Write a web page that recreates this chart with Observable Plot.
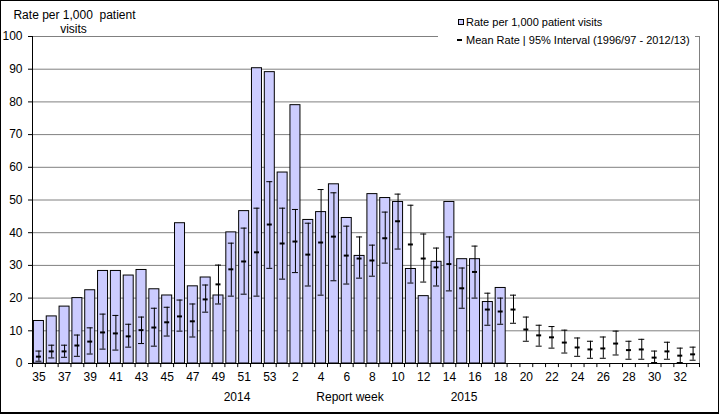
<!DOCTYPE html>
<html>
<head>
<meta charset="utf-8">
<script src="https://cdn.jsdelivr.net/npm/d3@7"></script>
<script src="https://cdn.jsdelivr.net/npm/@observablehq/plot@0.6"></script>
<style>
  body { margin: 0; background: #fff; }
  #wrap { position: relative; width: 719px; height: 414px; overflow: hidden; background: #fff;
          font-family: "Liberation Sans", Arial, sans-serif; color: #000; }
  #chart { position: absolute; left: 0; top: 0; }
  #border { position: absolute; left: 0; top: 0; width: 717px; height: 411px; border: 1px solid #000;
            border-bottom-width: 2px; pointer-events: none; }
  .lbl { position: absolute; white-space: pre; transform: translate(-50%, -50%); font-size: 12px; line-height: 14px; }
  #legend { position: absolute; left: 438px; top: 9px; width: 257px; height: 38px; background: #fff; font-size: 11px; }
  .lgtext { position: absolute; left: 28px; white-space: pre; line-height: 12px; transform: translateY(-50%); }
  .sq { position: absolute; left: 20px; width: 4px; height: 4px; background: #ccccff; border: 1px solid #000; }
  .dash { position: absolute; left: 19px; width: 5px; height: 2px; background: #000; }
</style>
</head>
<body>
<div id="wrap">
  <div id="chart"></div>
  <div class="lbl" style="left:74.5px; top:15px">Rate per 1,000  patient</div>
  <div class="lbl" style="left:73.5px; top:28.5px">visits</div>
  <div id="legend">
    <div class="sq" style="top:10px"></div>
    <div class="lgtext" style="top:12.7px">Rate per 1,000 patient visits</div>
    <div class="dash" style="top:30px"></div>
    <div class="lgtext" style="top:31px">Mean Rate | 95% Interval (1996/97 - 2012/13)</div>
  </div>
  <div class="lbl" style="left:237px; top:397px">2014</div>
  <div class="lbl" style="left:350px; top:397px">Report week</div>
  <div class="lbl" style="left:464px; top:397px">2015</div>
  <div id="border"></div>
</div>
<script>
// Report weeks: 2014 weeks 35-53, then 2015 weeks 1-33
const weeks = ["35","36","37","38","39","40","41","42","43","44","45","46","47","48","49","50","51","52","53",
  "1","2","3","4","5","6","7","8","9","10","11","12","13","14","15","16","17","18","19","20",
  "21","22","23","24","25","26","27","28","29","30","31","32","33"];

// Rate per 1,000 patient visits (available through 2015 week 18)
const rate = [13.0, 14.4, 17.4, 20.0, 22.4, 28.3, 28.3, 26.9, 28.6, 22.7, 20.8, 42.9, 23.6, 26.3, 20.8, 40.1, 46.6, 90.3, 89.1,
  58.4, 79.0, 43.9, 46.3, 54.8, 44.5, 32.9, 51.8, 50.6, 49.4, 28.9, 20.6, 31.1, 49.4, 31.9, 31.9, 18.8, 23.1];

// Mean rate and 95% interval (1996/97 - 2012/13)
const meanRate = [2.1, 3.7, 3.7, 5.5, 6.7, 9.5, 9.2, 8.3, 10.2, 11.0, 12.6, 14.4, 12.9, 19.6, 24.2, 28.8, 31.2, 34.0, 42.5,
  36.7, 37.3, 33.3, 37.0, 38.8, 33.0, 32.1, 31.5, 38.3, 43.5, 36.4, 32.1, 29.4, 30.4, 23.0, 28.0, 16.5, 15.9, 16.5, 10.4,
  8.6, 8.0, 6.4, 4.9, 4.3, 4.6, 6.1, 4.1, 4.3, 1.8, 3.7, 2.4, 2.8];
const upper = [3.8, 5.6, 5.6, 8.7, 10.9, 15.1, 14.7, 12.0, 14.2, 16.9, 17.2, 19.4, 18.2, 24.0, 30.1, 36.8, 41.4, 47.5, 55.6,
  47.5, 47.1, 42.9, 53.2, 52.2, 42.0, 38.7, 36.2, 46.3, 51.8, 48.4, 39.6, 35.3, 38.7, 29.2, 35.9, 21.5, 20.0, 20.9, 14.2,
  11.7, 11.3, 10.2, 7.8, 6.8, 8.1, 9.9, 6.8, 7.4, 3.8, 6.5, 4.7, 5.0];
const lower = [0.7, 1.7, 1.9, 2.2, 2.9, 4.4, 4.1, 5.0, 6.1, 5.3, 8.4, 9.9, 8.1, 15.7, 18.2, 20.6, 21.2, 20.6, 29.1,
  25.8, 27.8, 23.7, 20.9, 25.3, 24.3, 26.1, 26.7, 30.7, 35.0, 24.6, 24.9, 23.7, 22.2, 16.9, 20.0, 11.7, 12.0, 12.3, 6.8,
  5.3, 4.7, 3.2, 2.2, 1.6, 1.6, 2.6, 1.3, 1.3, 0.3, 1.3, 0.3, 1.0];

const yTicks = [0, 10, 20, 30, 40, 50, 60, 70, 80, 90, 100];
const xTickLabels = weeks.filter((d, i) => i % 2 === 0);

const bars = rate.map((v, i) => ({week: weeks[i], rate: v}));
const stats = weeks.map((w, i) => ({week: w, mean: meanRate[i], hi: upper[i], lo: lower[i]}));

const W = 719, H = 414, ML = 32, MR = 20, MT = 36, MB = 51;
const step = (W - ML - MR) / weeks.length;

const chart = Plot.plot({
  width: W, height: H,
  marginLeft: ML, marginRight: MR, marginTop: MT, marginBottom: MB,
  style: {fontFamily: '"Liberation Sans", Arial, sans-serif', fontSize: "12px", color: "#000", background: "transparent", overflow: "visible"},
  x: {type: "band", domain: weeks, paddingInner: 0.22, paddingOuter: 0.11, label: null},
  y: {domain: [0, 100], label: null},
  marks: [
    Plot.gridY(yTicks, {stroke: "#808080", strokeOpacity: 1}),
    Plot.frame({stroke: "#808080"}),
    Plot.barY(bars, {x: "week", y: "rate", fill: "#ccccff", stroke: "#000", strokeWidth: 1}),
    Plot.ruleX(stats, {x: "week", y1: "lo", y2: "hi", stroke: "#000", strokeWidth: 1}),
    Plot.tickY(stats, {x: "week", y: "hi", stroke: "#000", strokeWidth: 1, inset: 2}),
    Plot.tickY(stats, {x: "week", y: "lo", stroke: "#000", strokeWidth: 1, inset: 2}),
    Plot.tickY(stats, {x: "week", y: "mean", stroke: "#000", strokeWidth: 2, inset: 2.5}),
    Plot.ruleY([0], {stroke: "#000", strokeWidth: 1}),
    Plot.ruleX([weeks[0]], {y1: -1.25, y2: 100, dx: -step / 2, stroke: "#000", strokeWidth: 1}),
    Plot.ruleX(weeks, {x: d => d, y1: 0, y2: -1.25, dx: step / 2, stroke: "#000", strokeWidth: 1}),
    Plot.axisY(yTicks, {tickSize: 4, tickPadding: 6, fontSize: 12, label: null}),
    Plot.axisX(xTickLabels, {tickSize: 0, tickPadding: 9, fontSize: 12, label: null})
  ]
});
document.getElementById("chart").appendChild(chart);
</script>
</body>
</html>
